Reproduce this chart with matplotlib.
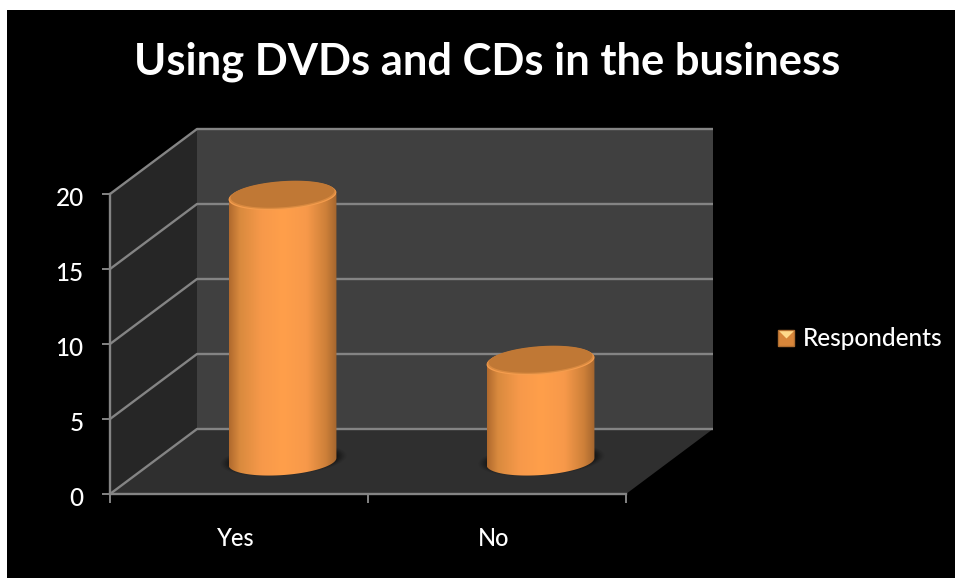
import numpy as np
import matplotlib
matplotlib.use("Agg")
import matplotlib.pyplot as plt
from matplotlib.colors import LinearSegmentedColormap
from matplotlib.lines import Line2D
from matplotlib.legend_handler import HandlerTuple
from matplotlib.patches import Polygon
from matplotlib.transforms import ScaledTranslation

categories = ["Yes", "No"]
respondents = [17.7, 6.7]
y_ticks = [0, 5, 10, 15, 20]
series_name = "Respondents"
chart_title = "Using DVDs and CDs in the business"

W, H = 955, 578
FONT = "Lato"

# Plot frame in pixels, and the oblique offset from the front plane to the back wall
LEFT, RIGHT, BASE, TOP = 110, 626, 494, 194
DEPTH_PX = (87, 65)

fig = plt.figure(figsize=(W / 100, H / 100), dpi=100, facecolor="white")

backdrop = fig.add_axes([7 / W, 0, 1 - 7 / W, 1 - 10 / H])
backdrop.set_facecolor("black")
backdrop.set_xticks([])
backdrop.set_yticks([])
for s in backdrop.spines.values():
    s.set_visible(False)

ax = fig.add_axes([LEFT / W, 1 - BASE / H, (RIGHT - LEFT) / W, (BASE - TOP) / H])
ax.patch.set_visible(False)
ax.set_xlim(0, len(categories))
ax.set_ylim(0, 20)

dx = DEPTH_PX[0] * len(categories) / (RIGHT - LEFT)
dy = DEPTH_PX[1] * 20 / (BASE - TOP)


def project(x, y, depth):
    """Map category position, value and depth (0 front, 1 back) onto the axes."""
    return x + depth * dx, y + depth * dy


GRID = "#848484"
xmax, ymax = len(categories), y_ticks[-1]

# Walls and floor
ax.add_patch(Polygon([project(0, 0, 1), project(xmax, 0, 1), project(xmax, ymax, 1), project(0, ymax, 1)],
                     fc="#404040", ec="none", clip_on=False, zorder=1))
ax.add_patch(Polygon([project(0, 0, 0), project(0, 0, 1), project(0, ymax, 1), project(0, ymax, 0)],
                     fc="#262626", ec="none", clip_on=False, zorder=1))
ax.add_patch(Polygon([project(0, 0, 0), project(xmax, 0, 0), project(xmax, 0, 1), project(0, 0, 1)],
                     fc="#2f2f2f", ec="none", clip_on=False, zorder=1))

# Gridlines run along the side wall, then across the back wall
for v in y_ticks:
    xs, ys = zip(project(0, v, 0), project(0, v, 1), project(xmax, v, 1))
    ax.plot(xs, ys, color=GRID, lw=1.7, clip_on=False, zorder=2, solid_capstyle="butt")

# Cylinders
HALF_WIDTH = 0.209
RY = 13.6 * 20 / (BASE - TOP)
SHEAR = 3.6 * 20 / (BASE - TOP)
side_cmap = LinearSegmentedColormap.from_list(
    "side", [(0, "#b06a2e"), (0.1, "#d98a3e"), (0.3, "#f7994a"), (0.5, "#ff9f4b"),
             (0.72, "#f7994a"), (0.9, "#cd8039"), (1, "#a4652e")])
t = np.linspace(0, 2 * np.pi, 240)


def ellipse(cx, cy, scale=1.0):
    return (cx + scale * HALF_WIDTH * np.cos(t),
            cy + scale * (RY * np.sin(t) + SHEAR * np.cos(t)))


for i, value in enumerate(respondents):
    cx, y0 = project(i + 0.5, 0, 0.5)
    y1 = y0 + value

    # Soft contact shadow on the floor
    for scale, alpha in zip(np.linspace(1.17, 1.0, 9), [0.05, 0.05, 0.07, 0.07, 0.1, 0.1, 0.14, 0.14, 0.2]):
        sx, sy = ellipse(cx + 0.004, y0 + 0.12, scale)
        ax.fill(sx, sy, color="#0a0a0a", alpha=alpha, lw=0, clip_on=False, zorder=3)

    # Side wall: outline of both end caps, filled with a horizontal gradient
    front = t[t >= np.pi]
    px = cx + HALF_WIDTH * np.cos(front)
    low = y0 + RY * np.sin(front) + SHEAR * np.cos(front)
    back = t[t <= np.pi]
    qx = cx + HALF_WIDTH * np.cos(back)
    high = y1 + RY * np.sin(back) + SHEAR * np.cos(back)
    outline = Polygon(np.column_stack([np.r_[px, qx], np.r_[low, high]]),
                      fc="none", ec="none", clip_on=False)
    ax.add_patch(outline)
    img = ax.imshow(np.linspace(0, 1, 256)[None, :], cmap=side_cmap, aspect="auto",
                    extent=(cx - HALF_WIDTH, cx + HALF_WIDTH, y0 - 2, y1 + 2), zorder=4)
    img.set_clip_path(outline)

    # Top cap: bevelled rim shows along the front edge only
    ex, ey = ellipse(cx, y1)
    ax.fill(ex, ey, color="#f59d4e", lw=0, clip_on=False, zorder=5)
    ex, ey = ellipse(cx, y1 + 0.06, 0.985)
    ax.fill(ex, ey, color="#d98a40", lw=0, clip_on=False, zorder=5)
    ex, ey = ellipse(cx, y1 + 0.12, 0.96)
    ax.fill(ex, ey, color="#c07835", lw=0, clip_on=False, zorder=5)

ax.set_xlim(0, len(categories))
ax.set_ylim(0, 20)

# Axes furniture
for name in ("top", "right"):
    ax.spines[name].set_visible(False)
for name in ("left", "bottom"):
    ax.spines[name].set_color(GRID)
    ax.spines[name].set_linewidth(1.7)
    ax.spines[name].set_zorder(6)
ax.set_yticks(y_ticks)
ax.set_yticklabels([str(v) for v in y_ticks], fontname=FONT, fontsize=17.5, color="white",
                   fontweight="medium")
ax.set_xticks(range(len(categories) + 1))
ax.set_xticklabels([])
ax.set_xticks([i + 0.5 for i in range(len(categories))], minor=True)
ax.set_xticklabels(categories, minor=True, fontname=FONT, fontsize=17, color="white",
                   fontweight="medium")
ax.tick_params(axis="y", length=5.5, width=1.4, color=GRID, pad=12)
ax.tick_params(axis="x", which="major", length=6.5, width=1.4, color=GRID)
ax.tick_params(axis="x", which="minor", length=0, pad=24)

# Nudge tick labels to sit where the category and value text belongs
nudge_y = ScaledTranslation(-2 / 100, -2.5 / 100, fig.dpi_scale_trans)
for lab in ax.get_yticklabels():
    lab.set_transform(lab.get_transform() + nudge_y)
nudge_x = ScaledTranslation(-3 / 100, 0.5 / 100, fig.dpi_scale_trans)
for lab in ax.get_xticklabels(minor=True):
    lab.set_transform(lab.get_transform() + nudge_x)

fig.text(487 / W, 1 - 62 / H, chart_title, ha="center", va="center", color="white",
         fontname=FONT, fontweight="bold", fontsize=31.3)

# Legend key: an orange square with a pale wedge hanging from its top edge
wedge = [(-1, 1), (1, 1), (0, 0)]
key = (Line2D([], [], marker="s", ms=11.5, mfc="#d8863a", mec="#b06e30", ls="none"),
       Line2D([], [], marker=wedge, ms=10.5, mfc="#ffd98a", mec="none", ls="none"))
fig.legend([key], [series_name], handler_map={tuple: HandlerTuple(ndivide=1, pad=0)},
           loc="center left", bbox_to_anchor=(775 / W, 1 - 339 / H), frameon=False,
           labelcolor="white", handlelength=0.9, handletextpad=0.25, borderpad=0, borderaxespad=0,
           prop={"family": FONT, "size": 17.6, "weight": "medium"})

fig.savefig("out.png", dpi=100, facecolor=fig.get_facecolor())
